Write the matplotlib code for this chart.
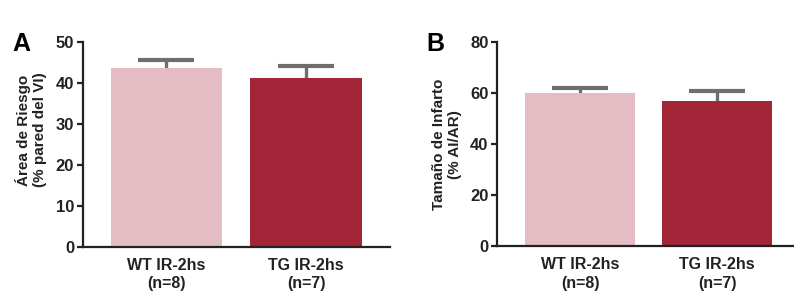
import matplotlib
matplotlib.use('Agg')
import matplotlib.pyplot as plt
import numpy as np

plt.rcParams['font.family'] = ['Liberation Sans', 'DejaVu Sans']
plt.rcParams['font.weight'] = 'bold'

groups = ['WT IR-2hs\n(n=8)', 'TG IR-2hs\n(n=7)']
colors = ['#E4BCC3', '#A22538']

# panel A: area at risk
risk_mean = [43.6, 41.3]
risk_sem = [2.0, 2.9]

# panel B: infarct size
inf_mean = [60.0, 57.0]
inf_sem = [1.9, 4.0]

fig = plt.figure(figsize=(7.94, 3.0), dpi=100)
axA = fig.add_axes([0.104, 0.178, 0.387, 0.681])
axB = fig.add_axes([0.6256, 0.18, 0.3744, 0.679])

def draw(ax, mean, sem, ymax, step, ylabel, xlim, lab_xy):
	x = np.arange(len(mean))
	# symmetric bars, lower half hidden behind the bar
	ax.errorbar(x, mean, yerr=sem, fmt='none',
		ecolor='#6e6e6e', elinewidth=2.4, capsize=20, capthick=3, zorder=1)
	ax.bar(x, mean, width=0.8, color=colors, zorder=2)
	ax.set_xlim(*xlim)
	ax.set_ylim(0, ymax)
	ax.set_yticks(np.arange(0, ymax + 1, step))
	ax.set_xticks(x)
	ax.set_xticklabels(groups, fontsize=11.5, fontweight='bold', color='#222222', linespacing=1.3)
	ax.tick_params(axis='x', length=0, pad=8)
	ax.tick_params(axis='y', length=4, width=1.6, color='#222222', labelsize=12, pad=2, labelcolor='#222222')
	for s in ['top', 'right']:
		ax.spines[s].set_visible(False)
	for s in ['left', 'bottom']:
		ax.spines[s].set_linewidth(1.6)
		ax.spines[s].set_color('#222222')
	ax.set_ylabel(ylabel, fontsize=11, fontweight='bold', color='#222222', linespacing=1.15)
	ax.yaxis.set_label_coords(*lab_xy)

draw(axA, risk_mean, risk_sem, 50, 10, 'Área de Riesgo\n(% pared del VI)', (-0.6, 1.6), (-0.117, 0.571))
draw(axB, inf_mean, inf_sem, 80, 20, 'Tamaño de Infarto\n(% AI/AR)', (-0.61, 1.56), (-0.117, 0.5))

fig.text(21 / 794, 1 - 44 / 300, 'A', fontsize=18, fontweight='bold', ha='center', va='center')
fig.text(435 / 794, 1 - 44 / 300, 'B', fontsize=18, fontweight='bold', ha='center', va='center')

fig.savefig('out.png', dpi=100)
